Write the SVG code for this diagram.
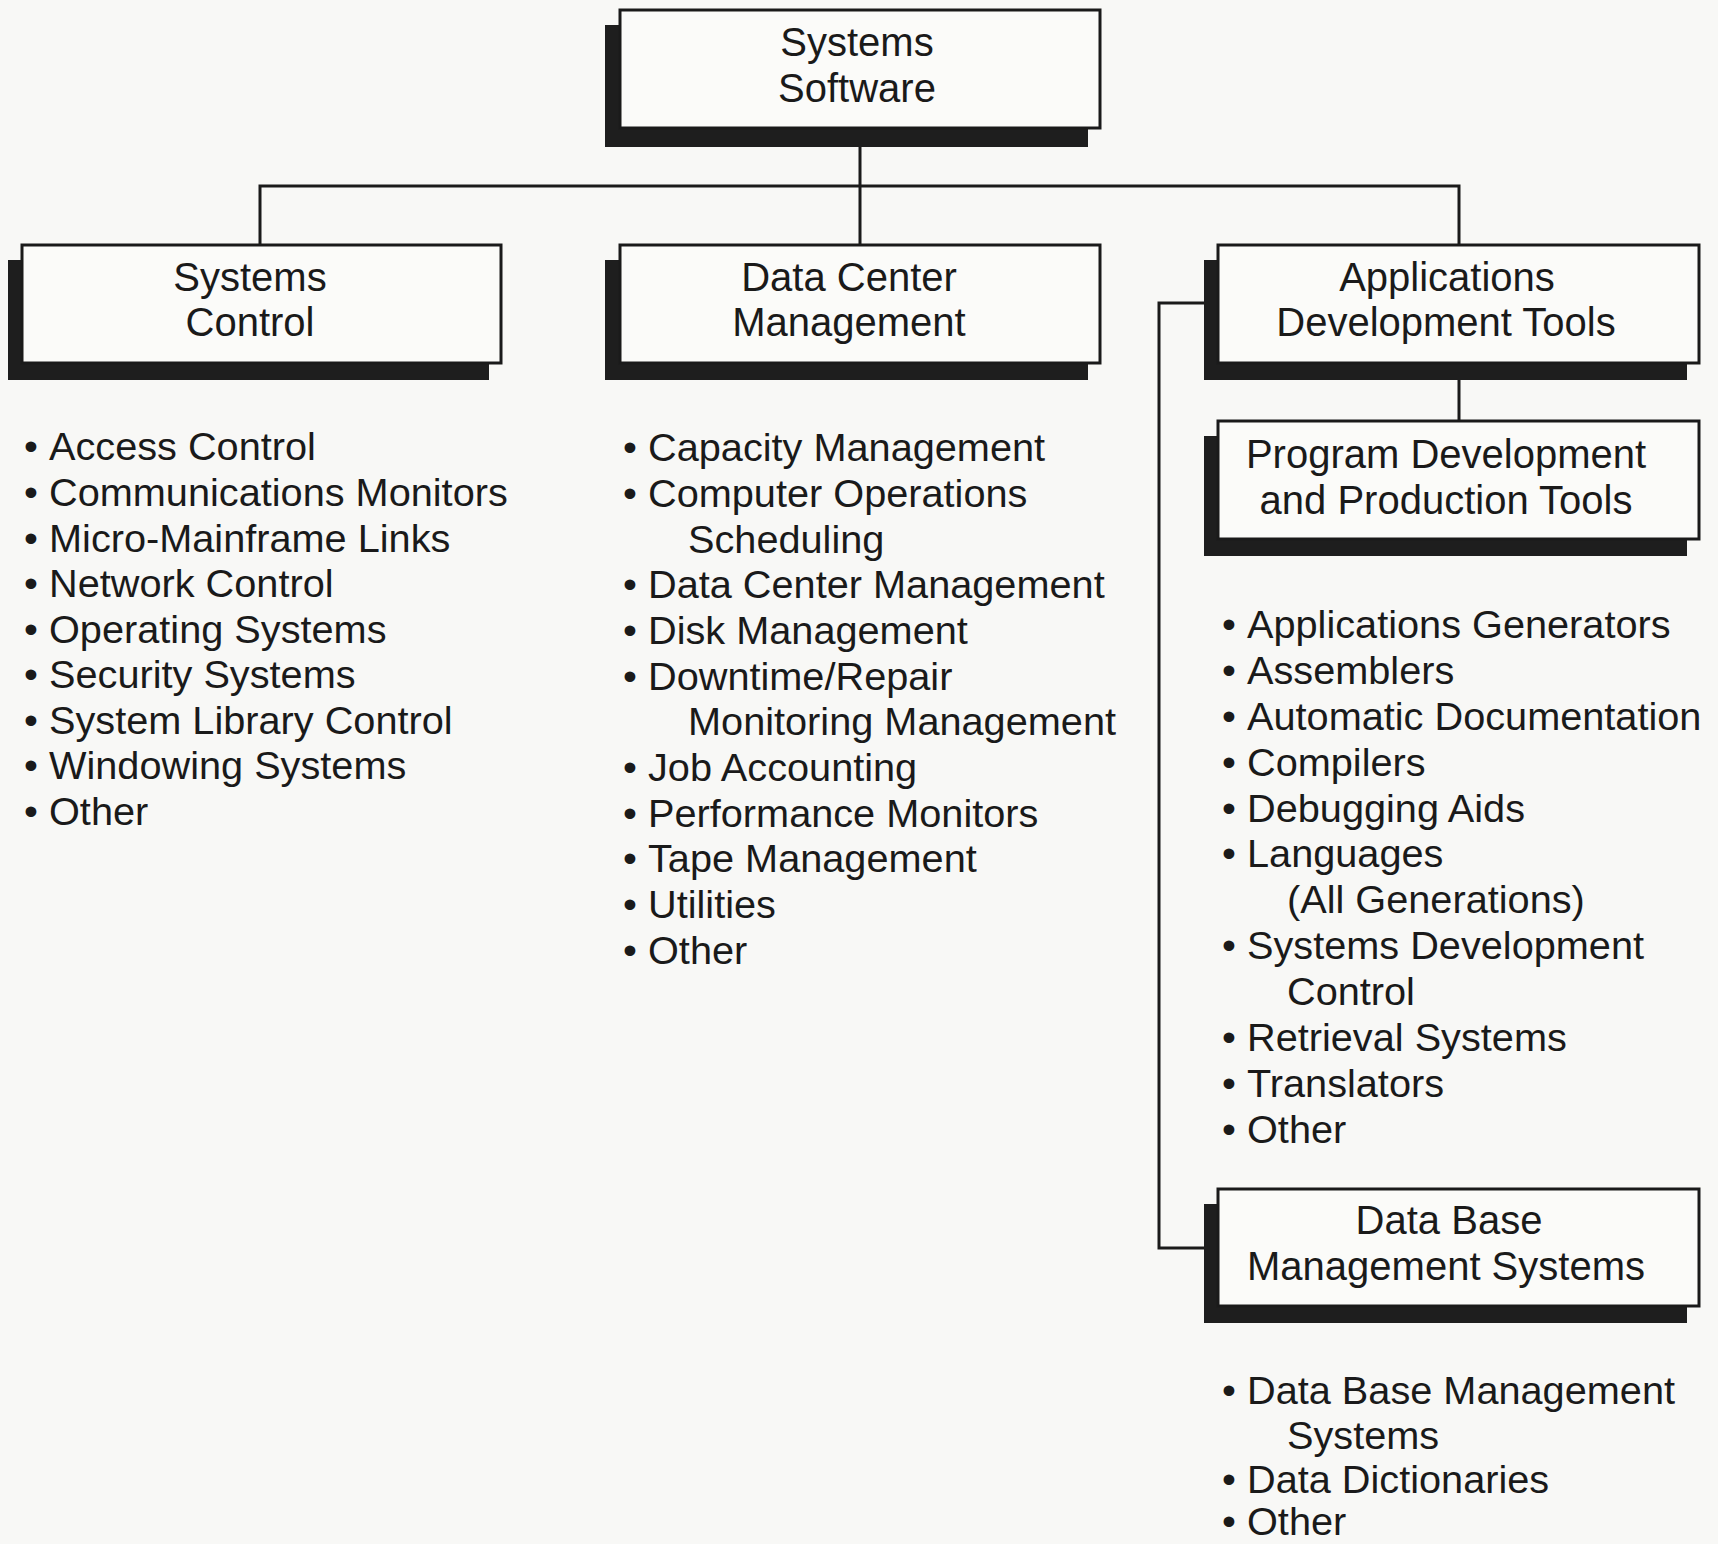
<svg xmlns="http://www.w3.org/2000/svg" width="1718" height="1544" viewBox="0 0 1718 1544">
  <style>
    .bg { fill: #f8f8f6; }
    .shadow { fill: #1e1e1e; }
    .box { fill: #fbfbf9; stroke: #1a1a1a; stroke-width: 3; }
    .conn { fill: none; stroke: #1a1a1a; stroke-width: 3; }
    .label { font-family: "Liberation Sans", Arial, Helvetica, sans-serif; font-size: 40px; fill: #1a1a1a; text-anchor: middle; }
    .item { font-family: "Liberation Sans", Arial, Helvetica, sans-serif; font-size: 39.7px; fill: #1a1a1a; }
  </style>

  <rect class="bg" x="0" y="0" width="1718" height="1544"/>

  <!-- tree connectors -->
  <g id="connectors">
    <path class="conn" d="M860,146 V245"/>
    <path class="conn" d="M260,245 V186 H1459 V245"/>
    <path class="conn" d="M1459,379 V421"/>
    <path class="conn" d="M1204,303 H1159 V1248 H1204"/>
  </g>

  <!-- root -->
  <g id="systems-software">
    <rect class="shadow" x="605" y="25" width="483" height="122"/>
    <rect class="box" x="620" y="10" width="480" height="118"/>
    <text class="label"><tspan x="857" y="56">Systems</tspan><tspan x="857" y="102">Software</tspan></text>
  </g>

  <!-- second level -->
  <g id="systems-control">
    <rect class="shadow" x="8" y="260" width="481" height="120"/>
    <rect class="box" x="22" y="245" width="479" height="118"/>
    <text class="label"><tspan x="250" y="291">Systems</tspan><tspan x="250" y="336">Control</tspan></text>
  </g>

  <g id="data-center-management">
    <rect class="shadow" x="605" y="260" width="483" height="120"/>
    <rect class="box" x="620" y="245" width="480" height="118"/>
    <text class="label"><tspan x="849" y="291">Data Center</tspan><tspan x="849" y="336">Management</tspan></text>
  </g>

  <g id="applications-development-tools">
    <rect class="shadow" x="1204" y="260" width="483" height="120"/>
    <rect class="box" x="1218" y="245" width="481" height="118"/>
    <text class="label"><tspan x="1447" y="291">Applications</tspan><tspan x="1446" y="336">Development Tools</tspan></text>
  </g>

  <!-- third level -->
  <g id="program-development-tools">
    <rect class="shadow" x="1204" y="436" width="483" height="120"/>
    <rect class="box" x="1218" y="421" width="481" height="118"/>
    <text class="label"><tspan x="1446" y="468">Program Development</tspan><tspan x="1446" y="514">and Production Tools</tspan></text>
  </g>

  <g id="data-base-management-systems">
    <rect class="shadow" x="1204" y="1204" width="483" height="119"/>
    <rect class="box" x="1218" y="1189" width="481" height="117"/>
    <text class="label"><tspan x="1449" y="1234">Data Base</tspan><tspan x="1446" y="1280">Management Systems</tspan></text>
  </g>

  <!-- item lists -->
  <g id="systems-control-items">
    <text class="item">
      <tspan x="24" y="460">•</tspan><tspan x="49" y="460">Access Control</tspan>
      <tspan x="24" y="506">•</tspan><tspan x="49" y="506">Communications Monitors</tspan>
      <tspan x="24" y="552">•</tspan><tspan x="49" y="552">Micro-Mainframe Links</tspan>
      <tspan x="24" y="597">•</tspan><tspan x="49" y="597">Network Control</tspan>
      <tspan x="24" y="643">•</tspan><tspan x="49" y="643">Operating Systems</tspan>
      <tspan x="24" y="688">•</tspan><tspan x="49" y="688">Security Systems</tspan>
      <tspan x="24" y="734">•</tspan><tspan x="49" y="734">System Library Control</tspan>
      <tspan x="24" y="779">•</tspan><tspan x="49" y="779">Windowing Systems</tspan>
      <tspan x="24" y="825">•</tspan><tspan x="49" y="825">Other</tspan>
    </text>
  </g>

  <g id="data-center-items">
    <text class="item">
      <tspan x="623" y="461">•</tspan><tspan x="648" y="461">Capacity Management</tspan>
      <tspan x="623" y="507">•</tspan><tspan x="648" y="507">Computer Operations</tspan>
      <tspan x="688" y="553">Scheduling</tspan>
      <tspan x="623" y="598">•</tspan><tspan x="648" y="598">Data Center Management</tspan>
      <tspan x="623" y="644">•</tspan><tspan x="648" y="644">Disk Management</tspan>
      <tspan x="623" y="690">•</tspan><tspan x="648" y="690">Downtime/Repair</tspan>
      <tspan x="688" y="735">Monitoring Management</tspan>
      <tspan x="623" y="781">•</tspan><tspan x="648" y="781">Job Accounting</tspan>
      <tspan x="623" y="827">•</tspan><tspan x="648" y="827">Performance Monitors</tspan>
      <tspan x="623" y="872">•</tspan><tspan x="648" y="872">Tape Management</tspan>
      <tspan x="623" y="918">•</tspan><tspan x="648" y="918">Utilities</tspan>
      <tspan x="623" y="964">•</tspan><tspan x="648" y="964">Other</tspan>
    </text>
  </g>

  <g id="program-development-items">
    <text class="item">
      <tspan x="1222" y="638">•</tspan><tspan x="1247" y="638">Applications Generators</tspan>
      <tspan x="1222" y="684">•</tspan><tspan x="1247" y="684">Assemblers</tspan>
      <tspan x="1222" y="730">•</tspan><tspan x="1247" y="730">Automatic Documentation</tspan>
      <tspan x="1222" y="776">•</tspan><tspan x="1247" y="776">Compilers</tspan>
      <tspan x="1222" y="822">•</tspan><tspan x="1247" y="822">Debugging Aids</tspan>
      <tspan x="1222" y="867">•</tspan><tspan x="1247" y="867">Languages</tspan>
      <tspan x="1287" y="913">(All Generations)</tspan>
      <tspan x="1222" y="959">•</tspan><tspan x="1247" y="959">Systems Development</tspan>
      <tspan x="1287" y="1005">Control</tspan>
      <tspan x="1222" y="1051">•</tspan><tspan x="1247" y="1051">Retrieval Systems</tspan>
      <tspan x="1222" y="1097">•</tspan><tspan x="1247" y="1097">Translators</tspan>
      <tspan x="1222" y="1143">•</tspan><tspan x="1247" y="1143">Other</tspan>
    </text>
  </g>

  <g id="data-base-items">
    <text class="item">
      <tspan x="1222" y="1404">•</tspan><tspan x="1247" y="1404">Data Base Management</tspan>
      <tspan x="1287" y="1449">Systems</tspan>
      <tspan x="1222" y="1493">•</tspan><tspan x="1247" y="1493">Data Dictionaries</tspan>
      <tspan x="1222" y="1535">•</tspan><tspan x="1247" y="1535">Other</tspan>
    </text>
  </g>
</svg>
